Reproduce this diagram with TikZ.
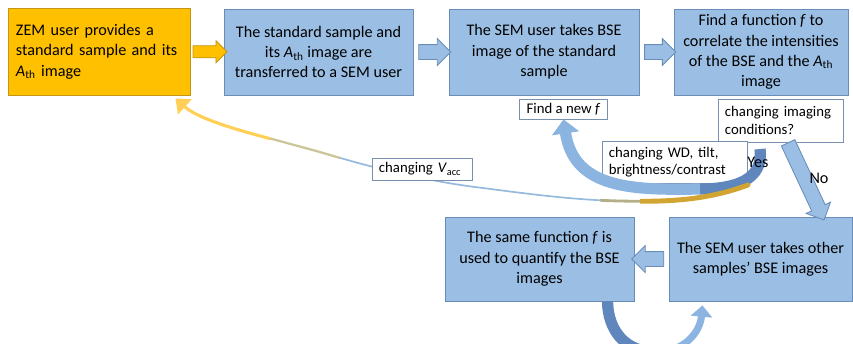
\documentclass[tikz,border=0pt]{standalone}
\usepackage{fontspec}
\setmainfont{Carlito}
\usepackage{xcolor}
\usepackage{tikz}
\usetikzlibrary{shapes.arrows, arrows.meta, calc}

\definecolor{zemgold}{RGB}{255,192,0}
\definecolor{zemgoldline}{RGB}{196,150,20}
\definecolor{semblue}{RGB}{155,191,228}
\definecolor{semblueline}{RGB}{105,140,185}
\definecolor{noteline}{RGB}{120,145,175}
\definecolor{benddark}{RGB}{95,135,190}
\definecolor{bendlight}{RGB}{140,180,225}
\definecolor{vaccgold}{RGB}{210,165,50}
\definecolor{vaccblue}{RGB}{150,185,222}
\definecolor{vaccyellow}{RGB}{255,208,85}

\tikzstyle{box} = [rectangle,
minimum height=2.15cm,
inner sep=0pt,
align=center,
fill=semblue,
draw=semblueline,
line width=0.6pt,
font=\fontsize{11.5}{14.5}\selectfont]
\tikzstyle{zembox} = [box, fill=zemgold, draw=zemgoldline, align=left, inner xsep=0.2cm, text width=4.15cm]
\tikzstyle{note} = [rectangle, fill=white, draw=noteline, line width=0.6pt, align=left,
inner xsep=0.175cm, inner ysep=0pt, font=\fontsize{10.5}{12.5}\selectfont]
\tikzstyle{lbl} = [inner sep=0pt, font=\fontsize{11.5}{14}\selectfont]
\tikzstyle{bluearrow} = [single arrow, fill=semblue, draw=semblueline, line width=0.6pt,
inner xsep=0pt, inner ysep=0.175cm, single arrow head extend=0.15cm, minimum width=0pt]
\tikzstyle{zemarrow} = [bluearrow, fill=zemgold, draw=zemgoldline, inner ysep=0.14cm, single arrow head extend=0.125cm]
\tikzstyle{bendarrow} = [line width=8pt, -{Triangle[width=19pt,length=10pt]}]

% curve going back to the ZEM user
\newcommand{\vacccurve}{(vaccstart) .. controls (705,201) and (665,202) .. (620,201)
  .. controls (574,200) and (529,194) .. (483,188)
  .. controls (432,182) and (381,170) .. (330,155)
  .. controls (280,140) and (205,125) .. ($(zem.south east)+(-15,3)$)}

\frenchspacing

\begin{document}
\begin{tikzpicture}[x=0.025cm, y=-0.025cm]

\path[use as bounding box, clip] (0,0) rectangle (853,343);

% Top row
\node[zembox, minimum height=2.175cm] (zem) at (99,51.5) {ZEM user provides a\\ standard sample and its\\ \textit{A}\textsubscript{th} image};
\node[box, minimum width=4.725cm] (transfer) at (318.5,52) {The standard sample and\\ its \textit{A}\textsubscript{th} image are\\ transferred to a SEM user};
\node[box, minimum width=4.75cm] (takestd) at (544,52) {The SEM user takes BSE\\ image of the standard\\ sample};
\node[box, minimum width=4.35cm] (findf) at (761,52) {Find a function \textit{f} to\\ correlate the intensities\\ of the BSE and the \textit{A}\textsubscript{th}\\ image};

% Bottom row
\node[box, minimum width=4.725cm, minimum height=2.1cm] (quantify) at (539.5,259) {The same function \textit{f} is\\ used to quantify the BSE\\ images};
\node[box, minimum width=4.575cm, minimum height=2.1cm] (others) at (760.5,259) {The SEM user takes other\\ samples’ BSE images};

% Block arrows between the boxes
\node[zemarrow, minimum height=0.85cm] (a1) at ($(zem.east)!0.5!(transfer.west)$) {};
\node[bluearrow, minimum height=0.8cm] (a2) at ($(transfer.east)!0.5!(takestd.west)$) {};
\node[bluearrow, minimum height=0.78cm] (a3) at ($(takestd.east)!0.5!(findf.west)$) {};
\node[bluearrow, minimum height=0.8cm, shape border rotate=180] (a4) at ($(others.west)!0.5!(quantify.east)$) {};

% Repeat for every sample
\draw[line width=8pt, draw=benddark] ($(quantify.south)+(68,0)$) .. controls (608,330) and (625,352) .. (655,352);
\draw[line width=5pt, draw=bendlight, -{Triangle[width=15pt,length=8pt]}] (655,352) .. controls (685,352) and (700,332) .. ($(others.south)+(-58,4)$);

% Notes
\node[note, minimum width=2.125cm, minimum height=0.5cm, align=center] (newf) at (563.5,109) {Find a new \textit{f}};
\node[note, text width=2.775cm, minimum height=1.075cm] (cond) at (780.5,120.5) {changing imaging\\ conditions?};

% No
\coordinate (nostart) at ($(cond.south)+(6,-3)$);
\coordinate (noend) at ($(others.north)+(62,0)$);
\path let \p1 = ($(noend)-(nostart)$), \n1 = {atan2(\y1,\x1)}, \n2 = {veclen(\x1,\y1)} in
  node[bluearrow, rotate=\n1, minimum height=\n2] (noarrow) at ($(nostart)!0.5!(noend)$) {};

\node[note, text width=3.275cm, minimum height=1.05cm] (wd) at (674.5,162) {changing WD, tilt,\\ brightness/contrast};

% Yes: back to a new f
\coordinate (bendstart) at (760,149);
\draw[line width=8pt, draw=benddark] (bendstart) .. controls (764,180) and (735,189) .. (700,189);
\draw[bendarrow, draw=bendlight] (700,189) .. controls (635,190) and (574,190) .. (newf.south);

% Vacc curve, coloured in parts
\coordinate (vaccstart) at (748,185);
\begin{scope}
\clip (640,0) rectangle (853,343);
\draw[line width=3.5pt, draw=vaccgold, line cap=round] \vacccurve;
\end{scope}
\begin{scope}
\clip (600,0) rectangle (640,343);
\draw[line width=2pt, draw=vaccgold!50!vaccblue] \vacccurve;
\end{scope}
\begin{scope}
\clip (340,0) rectangle (600,343);
\draw[line width=1.2pt, draw=vaccblue] \vacccurve;
\end{scope}
\begin{scope}
\clip (270,0) rectangle (340,343);
\draw[line width=1.6pt, draw=vaccyellow!50!vaccblue] \vacccurve;
\end{scope}
\begin{scope}
\clip (0,0) rectangle (270,343);
\draw[line width=2.2pt, draw=vaccyellow, -{Triangle[width=14pt,length=9pt]}] \vacccurve;
\end{scope}

\node[note, text width=2.15cm, minimum height=0.55cm] (vacc) at (422,169) {changing \textit{V}\textsubscript{acc}};

% Labels
\node[lbl] (yes) at (758,162) {Yes};
\node[lbl] (no) at (819,178) {No};

\end{tikzpicture}
\end{document}
